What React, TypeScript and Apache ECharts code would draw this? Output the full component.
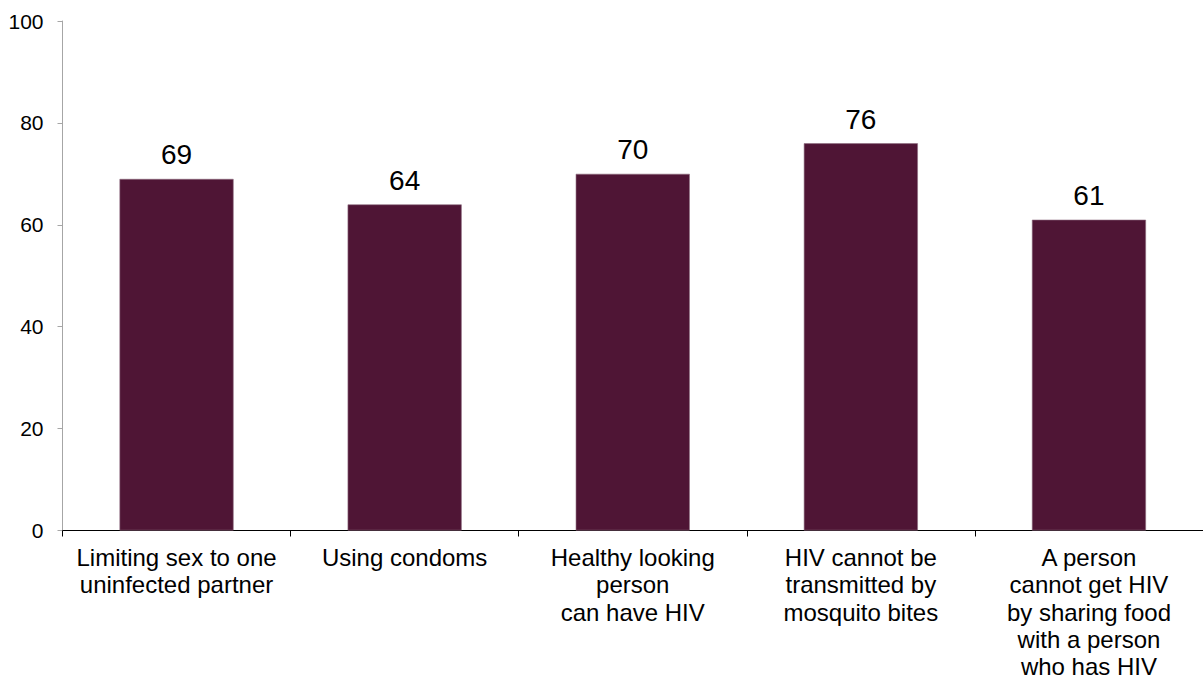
import React, { useEffect, useRef } from "react";
import * as echarts from "echarts";

const categories = [
  "Limiting sex to one\nuninfected partner",
  "Using condoms",
  "Healthy looking\nperson\ncan have HIV",
  "HIV cannot be\ntransmitted by\nmosquito bites",
  "A person\ncannot get HIV\nby sharing food\nwith a person\nwho has HIV",
];
const values = [69, 64, 70, 76, 61];
const yMin = 0;
const yMax = 100;
const yStep = 20;

export default function App() {
  const ref = useRef<HTMLDivElement>(null);
  useEffect(() => {
    if (!ref.current) return;
    const chart = echarts.init(ref.current, undefined, { renderer: "svg" });
    chart.setOption({
      animation: false,
      backgroundColor: "#ffffff",
      grid: { left: 62.5, right: -5.8, top: 21, bottom: 147.5, containLabel: false },
      xAxis: {
        type: "category",
        data: categories,
        axisLine: { show: true, lineStyle: { color: "#000000", width: 1 } },
        axisTick: { show: true, alignWithLabel: false, length: 6, lineStyle: { color: "#000000" } },
        axisLabel: {
          interval: 0,
          margin: 13.5,
          color: "#000000",
          fontFamily: "Liberation Sans, Arial, sans-serif",
          fontSize: 24,
          lineHeight: 27.2,
          align: "center",
        },
        splitLine: { show: false },
      },
      yAxis: {
        type: "value",
        min: yMin,
        max: yMax,
        interval: yStep,
        axisLine: { show: true, lineStyle: { color: "#a6a6a6", width: 1 } },
        axisTick: { show: true, inside: false, length: 5, lineStyle: { color: "#a6a6a6" } },
        axisLabel: {
          margin: 19,
          color: "#000000",
          fontFamily: "Liberation Sans, Arial, sans-serif",
          fontSize: 21,
        },
        splitLine: { show: false },
      },
      series: [
        {
          type: "bar",
          data: values,
          barWidth: "50%",
          itemStyle: { color: "#4f1535", borderColor: "#8d6b7f", borderWidth: 0.6 },
          label: {
            show: true,
            position: "top",
            distance: 10,
            color: "#000000",
            fontFamily: "Liberation Sans, Arial, sans-serif",
            fontSize: 28,
          },
        },
      ],
    });
    return () => chart.dispose();
  }, []);
  return (
    <div
      ref={ref}
      style={{ position: "absolute", left: 0, top: 0, width: 1203, height: 680 }}
    />
  );
}
